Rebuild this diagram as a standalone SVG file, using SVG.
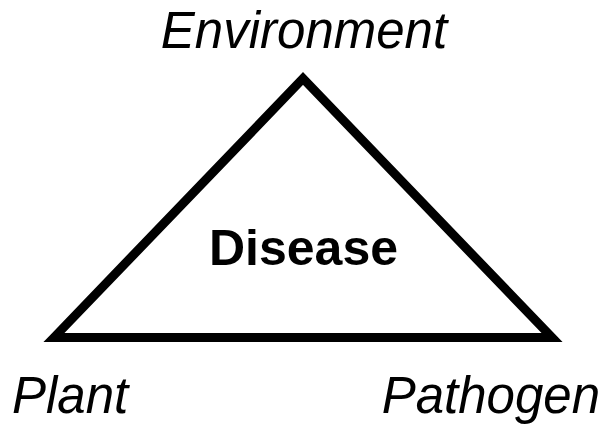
<svg xmlns="http://www.w3.org/2000/svg" width="606" height="424" viewBox="0 0 606 424">
<style>
.lbl{font-family:"Liberation Sans",Arial,sans-serif;font-size:51px;font-style:italic;fill:#000}
.ttl{font-family:"Liberation Sans",Arial,sans-serif;font-size:50px;font-weight:bold;fill:#000}
</style>
<rect width="606" height="424" fill="#fff"/>
<g id="connectors">
<polygon points="54,337.5 303,78.5 552,337.5" fill="none" stroke="#000" stroke-width="9" stroke-linejoin="miter" stroke-miterlimit="10"/>
</g>
<g id="environment"><text class="lbl" x="304" y="48" text-anchor="middle">Environment</text></g>
<g id="disease"><text class="ttl" x="303.5" y="265" text-anchor="middle">Disease</text></g>
<g id="plant"><text class="lbl" x="12" y="413">Plant</text></g>
<g id="pathogen"><text class="lbl" x="600" y="413" text-anchor="end">Pathogen</text></g>
</svg>
